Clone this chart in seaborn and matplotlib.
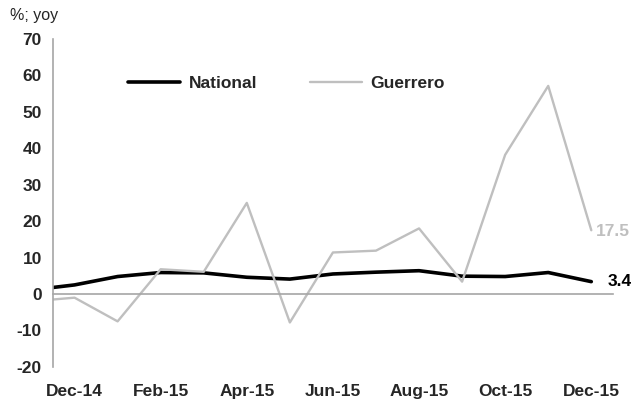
import pandas as pd
import matplotlib
matplotlib.use("Agg")
import matplotlib.pyplot as plt
import seaborn as sns

# Datos (variación % anual)
meses = ["Nov-14", "Dec-14", "Jan-15", "Feb-15", "Mar-15", "Apr-15", "May-15",
         "Jun-15", "Jul-15", "Aug-15", "Sep-15", "Oct-15", "Nov-15", "Dec-15"]
national = [1.1, 2.5, 4.8, 5.9, 5.8, 4.6, 4.1, 5.5, 6.0, 6.4, 4.9, 4.8, 5.9, 3.4]
guerrero = [-2.0, -1.0, -7.5, 6.8, 6.1, 25.0, -7.8, 11.4, 11.9, 18.0, 3.4, 38.2, 57.1, 17.5]
yticks = [-20, -10, 0, 10, 20, 30, 40, 50, 60, 70]

pos = list(range(-1, len(meses) - 1))
df = pd.DataFrame({"pos": pos, "mes": meses, "National": national, "Guerrero": guerrero})

sns.set_style("white")
plt.rcParams["font.family"] = ["Liberation Sans", "DejaVu Sans"]

gris = "#bfbfbf"
eje = "#a6a6a6"

fig = plt.figure(figsize=(6.34, 4.05), dpi=100)
ax = fig.add_axes([0.0836, 0.094, 0.883, 0.81])

sns.lineplot(data=df, x="pos", y="National", color="black", linewidth=2.6, ax=ax, label="National")
sns.lineplot(data=df, x="pos", y="Guerrero", color=gris, linewidth=1.7, ax=ax, label="Guerrero")

ax.set_xlim(-0.5, 12.5)
ax.set_ylim(-20, 70)
ax.set_yticks(yticks)
ax.set_yticklabels([str(v) for v in yticks], fontsize=12.5, fontweight="bold")

# ejes
for s in ["top", "right"]:
    ax.spines[s].set_visible(False)
ax.spines["left"].set_color(eje)
ax.spines["left"].set_linewidth(1.2)
ax.spines["bottom"].set_position(("data", 0))
ax.spines["bottom"].set_color(eje)
ax.spines["bottom"].set_linewidth(1.2)
ax.tick_params(axis="y", direction="out", length=5, color=eje, width=1.2, pad=3)

# marcas entre categorías y etiquetas cada dos meses
ax.set_xticks([p + 0.5 for p in pos[1:-1:2]])
ax.set_xticklabels([])
ax.tick_params(axis="x", which="major", direction="out", length=5, color=eje, width=1.2)
ax.set_xticks(pos[1::2], minor=True)
ax.set_xticklabels(meses[1::2], minor=True, fontsize=12.5, fontweight="bold")
ax.tick_params(axis="x", which="minor", length=0, pad=65)
ax.set_xlabel("")
ax.set_ylabel("")

# etiquetas del último dato
ax.annotate(f"{guerrero[-1]:.1f}", (pos[-1], guerrero[-1]), xytext=(3, -1),
            textcoords="offset points", color=gris, fontsize=12.5, fontweight="bold",
            va="center", ha="left", annotation_clip=False)
ax.annotate(f"{national[-1]:.1f}", (pos[-1], national[-1]), xytext=(12, 0),
            textcoords="offset points", color="black", fontsize=12.5, fontweight="bold",
            va="center", ha="left", annotation_clip=False)

fig.text(0.016, 0.962, "%; yoy", fontsize=11.5, va="center", ha="left")

ax.legend(loc="center", bbox_to_anchor=(0.452, 0.795), bbox_transform=fig.transFigure,
          ncol=2, frameon=False, handlelength=3.0, handletextpad=0.5, columnspacing=3.0,
          prop={"size": 12.5, "weight": "bold"})

fig.savefig("out.png", dpi=100)
